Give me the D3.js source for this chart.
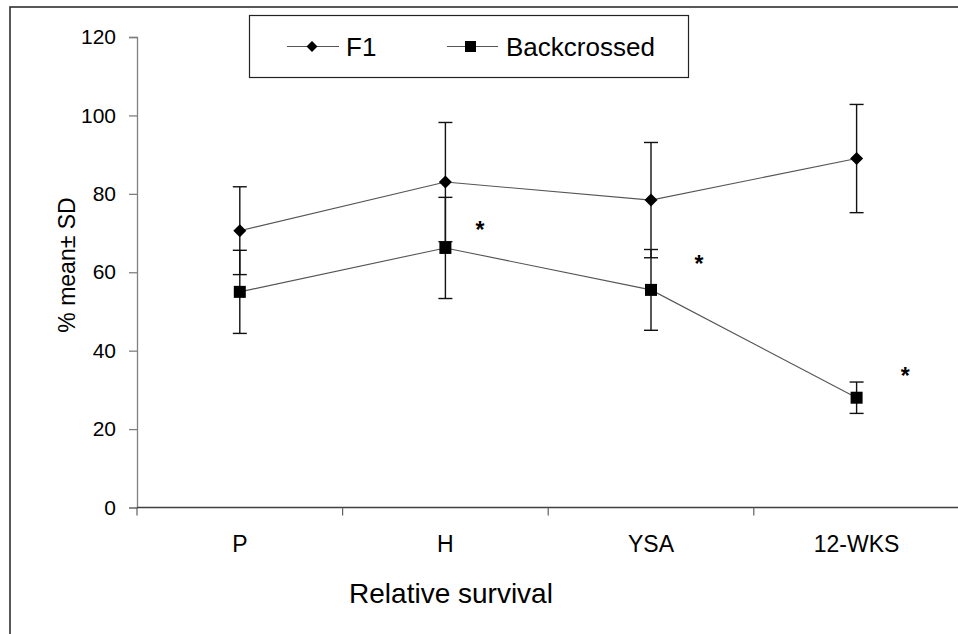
<!DOCTYPE html>
<html>
<head>
<meta charset="utf-8">
<script src="https://cdn.jsdelivr.net/npm/d3@7/dist/d3.min.js"></script>
<style>
  html, body { margin: 0; padding: 0; background: #fff; }
  svg { display: block; font-family: "Liberation Sans", Arial, sans-serif; }
</style>
</head>
<body>
<svg id="chart" width="958" height="634"></svg>
<script>
// ---- data ----
const categories = ["P", "H", "YSA", "12-WKS"];
const f1Mean = [70.6, 83.0, 78.4, 89.0];
const f1SD = [11.2, 15.2, 14.7, 13.8];
const bcMean = [55.0, 66.2, 55.5, 28.0];
const bcSD = [10.6, 12.9, 10.3, 4.0];
const yTicks = [0, 20, 40, 60, 80, 100, 120];
const seriesNames = ["F1", "Backcrossed"];
// significance asterisks: category and y value (centre of the star)
const starCats = ["H", "YSA", "12-WKS"];
const starY = [71.8, 63.2, 34.6];
const starOffset = [0.168, 0.233, 0.237]; // fraction of band width right of centre

const svg = d3.select("#chart");
const W = 958, H = 634;

// outer chart border (extends past the image on right and bottom)
svg.append("rect").attr("x", 10).attr("y", 7).attr("width", 1000).attr("height", 700)
  .attr("fill", "none").attr("stroke", "#222").attr("stroke-width", 1.5);

const x = d3.scaleBand().domain(categories).range([137, 959.4]).paddingInner(0).paddingOuter(0);
const y = d3.scaleLinear().domain([0, 120]).range([507.5, 37]);
const cx = c => x(c) + x.bandwidth() / 2;

// y axis
const yAxis = d3.axisLeft(y).tickValues(yTicks).tickSize(8).tickPadding(13).tickFormat(d3.format("d"));
const gy = svg.append("g").attr("transform", "translate(137,0)").call(yAxis);
gy.select(".domain").attr("stroke", "#808080").attr("stroke-width", 1.3);
gy.selectAll(".tick line").attr("stroke", "#808080").attr("stroke-width", 1.3);
gy.selectAll(".tick text").attr("font-size", 21).attr("fill", "#000")
  .attr("font-family", "Liberation Sans, Arial, sans-serif");

// x axis: line plus boundary ticks
const boundaries = categories.map(c => x(c)).concat([x.range()[1]]);
svg.append("line").attr("x1", 137).attr("x2", W + 5).attr("y1", y(0)).attr("y2", y(0))
  .attr("stroke", "#404040").attr("stroke-width", 1.5);
svg.selectAll("line.xtick").data(boundaries).enter().append("line").attr("class", "xtick")
  .attr("x1", d => d).attr("x2", d => d).attr("y1", y(0)).attr("y2", y(0) + 8)
  .attr("stroke", "#606060").attr("stroke-width", 1.2);
svg.selectAll("text.xlab").data(categories).enter().append("text").attr("class", "xlab")
  .attr("x", d => cx(d)).attr("y", 551.5).attr("text-anchor", "middle")
  .attr("font-size", 23).attr("fill", "#000").text(d => d);

// axis titles
svg.append("text").attr("x", 451).attr("y", 603).attr("text-anchor", "middle")
  .attr("font-size", 28).attr("fill", "#000").text("Relative survival");
svg.append("text").attr("transform", "translate(75,265) rotate(-90)").attr("text-anchor", "middle")
  .attr("font-size", 23).attr("fill", "#000").text("% mean\u00b1 SD");

// series data
const f1 = categories.map((c, i) => ({ c, m: f1Mean[i], sd: f1SD[i] }));
const bc = categories.map((c, i) => ({ c, m: bcMean[i], sd: bcSD[i] }));

const line = d3.line().x(d => cx(d.c)).y(d => y(d.m));
[f1, bc].forEach(s => {
  svg.append("path").datum(s).attr("d", line).attr("fill", "none")
    .attr("stroke", "#555").attr("stroke-width", 1.1);
});

// error bars
function errorBars(s) {
  const g = svg.append("g").attr("stroke", "#111").attr("stroke-width", 1.4);
  s.forEach(d => {
    const X = cx(d.c);
    g.append("line").attr("x1", X).attr("x2", X).attr("y1", y(d.m + d.sd)).attr("y2", y(d.m - d.sd));
    [d.m + d.sd, d.m - d.sd].forEach(v => {
      g.append("line").attr("x1", X - 7).attr("x2", X + 7).attr("y1", y(v)).attr("y2", y(v));
    });
  });
}
errorBars(f1);
errorBars(bc);

// markers
const diamond = r => `M0,${-r}L${r},0L0,${r}L${-r},0Z`;
svg.selectAll("path.f1m").data(f1).enter().append("path").attr("class", "f1m")
  .attr("d", diamond(6.5)).attr("transform", d => `translate(${cx(d.c)},${y(d.m)})`).attr("fill", "#000");
svg.selectAll("rect.bcm").data(bc).enter().append("rect").attr("class", "bcm")
  .attr("x", d => cx(d.c) - 6).attr("y", d => y(d.m) - 6).attr("width", 12).attr("height", 12).attr("fill", "#000");

// asterisks
svg.selectAll("text.star").data(starCats).enter().append("text").attr("class", "star")
  .attr("x", (d, i) => cx(d) + starOffset[i] * x.bandwidth())
  .attr("y", (d, i) => y(starY[i]) + 12.5)
  .attr("text-anchor", "middle").attr("font-size", 23).attr("font-weight", "bold")
  .attr("fill", "#000").text("*");

// legend
const lg = svg.append("g");
lg.append("rect").attr("x", 249.5).attr("y", 15.5).attr("width", 439).attr("height", 62)
  .attr("fill", "#fff").attr("stroke", "#222").attr("stroke-width", 1.2);
const ly = 46.5;
lg.append("line").attr("x1", 287).attr("x2", 339).attr("y1", ly).attr("y2", ly).attr("stroke", "#555").attr("stroke-width", 1.1);
lg.append("path").attr("d", diamond(5.5)).attr("transform", `translate(312,${ly})`).attr("fill", "#000");
lg.append("text").attr("x", 346).attr("y", 55.5).attr("font-size", 26).attr("fill", "#000").text(seriesNames[0]);
lg.append("line").attr("x1", 447).attr("x2", 498).attr("y1", ly).attr("y2", ly).attr("stroke", "#555").attr("stroke-width", 1.1);
lg.append("rect").attr("x", 465).attr("y", ly - 5.5).attr("width", 11).attr("height", 11).attr("fill", "#000");
lg.append("text").attr("x", 506).attr("y", 55.5).attr("font-size", 26).attr("fill", "#000").text(seriesNames[1]);
</script>
</body>
</html>
